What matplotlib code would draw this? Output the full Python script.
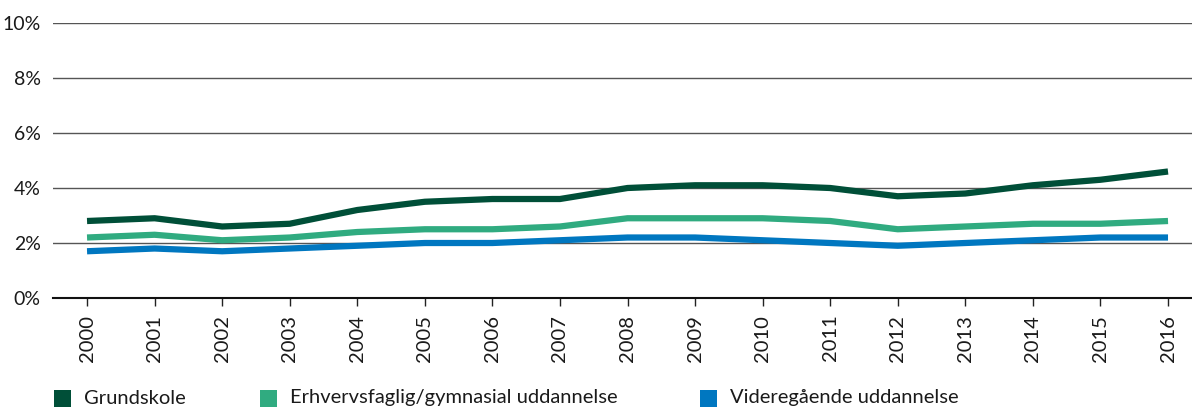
"""Andel af beskæftigede fordelt på uddannelsesniveau, 2000-2016."""

import matplotlib
matplotlib.use("Agg")
import matplotlib.pyplot as plt
from matplotlib.patches import Rectangle

# ---------------------------------------------------------------------------
# Data (in %)
# ---------------------------------------------------------------------------
YEARS = list(range(2000, 2017))

GRUNDSKOLE = [2.8, 2.9, 2.6, 2.7, 3.2, 3.5, 3.6, 3.6, 4.0,
              4.1, 4.1, 4.0, 3.7, 3.8, 4.1, 4.3, 4.6]
ERHVERV = [2.2, 2.3, 2.1, 2.2, 2.4, 2.5, 2.5, 2.6, 2.9,
           2.9, 2.9, 2.8, 2.5, 2.6, 2.7, 2.7, 2.8]
VIDEREGAAENDE = [1.7, 1.8, 1.7, 1.8, 1.9, 2.0, 2.0, 2.1, 2.2,
                 2.2, 2.1, 2.0, 1.9, 2.0, 2.1, 2.2, 2.2]

SERIES = [
    ("Grundskole", GRUNDSKOLE, "#004f38"),
    ("Erhvervsfaglig/gymnasial uddannelse", ERHVERV, "#30ab80"),
    ("Videregående uddannelse", VIDEREGAAENDE, "#0077c0"),
]

Y_TICKS = [0, 2, 4, 6, 8, 10]

FONT = ["Lato", "DejaVu Sans"]
TEXT_COLOR = "#1a1a1a"


def main() -> None:
    plt.rcParams["font.family"] = FONT

    fig = plt.figure(figsize=(11.92, 4.08), dpi=100)
    ax = fig.add_axes([0.0445, 0.2696, 0.9555, 0.674])

    for y in Y_TICKS[1:]:
        ax.axhline(y, color="#555555", lw=1.0, zorder=1)

    for label, values, color in SERIES:
        ax.plot(YEARS, values, color=color, lw=4.5, solid_capstyle="butt",
                zorder=3)

    ax.set_xlim(1999.497, 2016.355)
    ax.set_ylim(0, 10)

    ax.set_yticks(Y_TICKS)
    ax.set_yticklabels([f"{v}%" for v in Y_TICKS])
    ax.set_xticks(YEARS)
    ax.set_xticklabels([str(y) for y in YEARS], rotation=90)

    ax.tick_params(axis="y", length=0, pad=9, labelsize=14,
                   labelcolor=TEXT_COLOR)
    ax.tick_params(axis="x", length=6, width=1, color="#222222", pad=6,
                   labelsize=14.5, labelcolor=TEXT_COLOR)

    for side in ("top", "right", "left"):
        ax.spines[side].set_visible(False)
    ax.spines["bottom"].set_color("#111111")
    ax.spines["bottom"].set_linewidth(1.5)

    # Legend: coloured squares + labels along the bottom
    W, H = 1192, 408
    legend_x = [54, 260, 700]
    y_center = 398
    box = 17
    for (label, _, color), x0 in zip(SERIES, legend_x):
        fig.patches.append(Rectangle(
            (x0 / W, (H - y_center - box / 2) / H), box / W, box / H,
            transform=fig.transFigure, facecolor=color, edgecolor="none"))
        fig.text((x0 + box + 13) / W, (H - y_center) / H, label,
                 fontsize=14.5, color=TEXT_COLOR, va="center", ha="left")

    fig.savefig("out.png", dpi=100)
    plt.close(fig)


if __name__ == "__main__":
    main()
